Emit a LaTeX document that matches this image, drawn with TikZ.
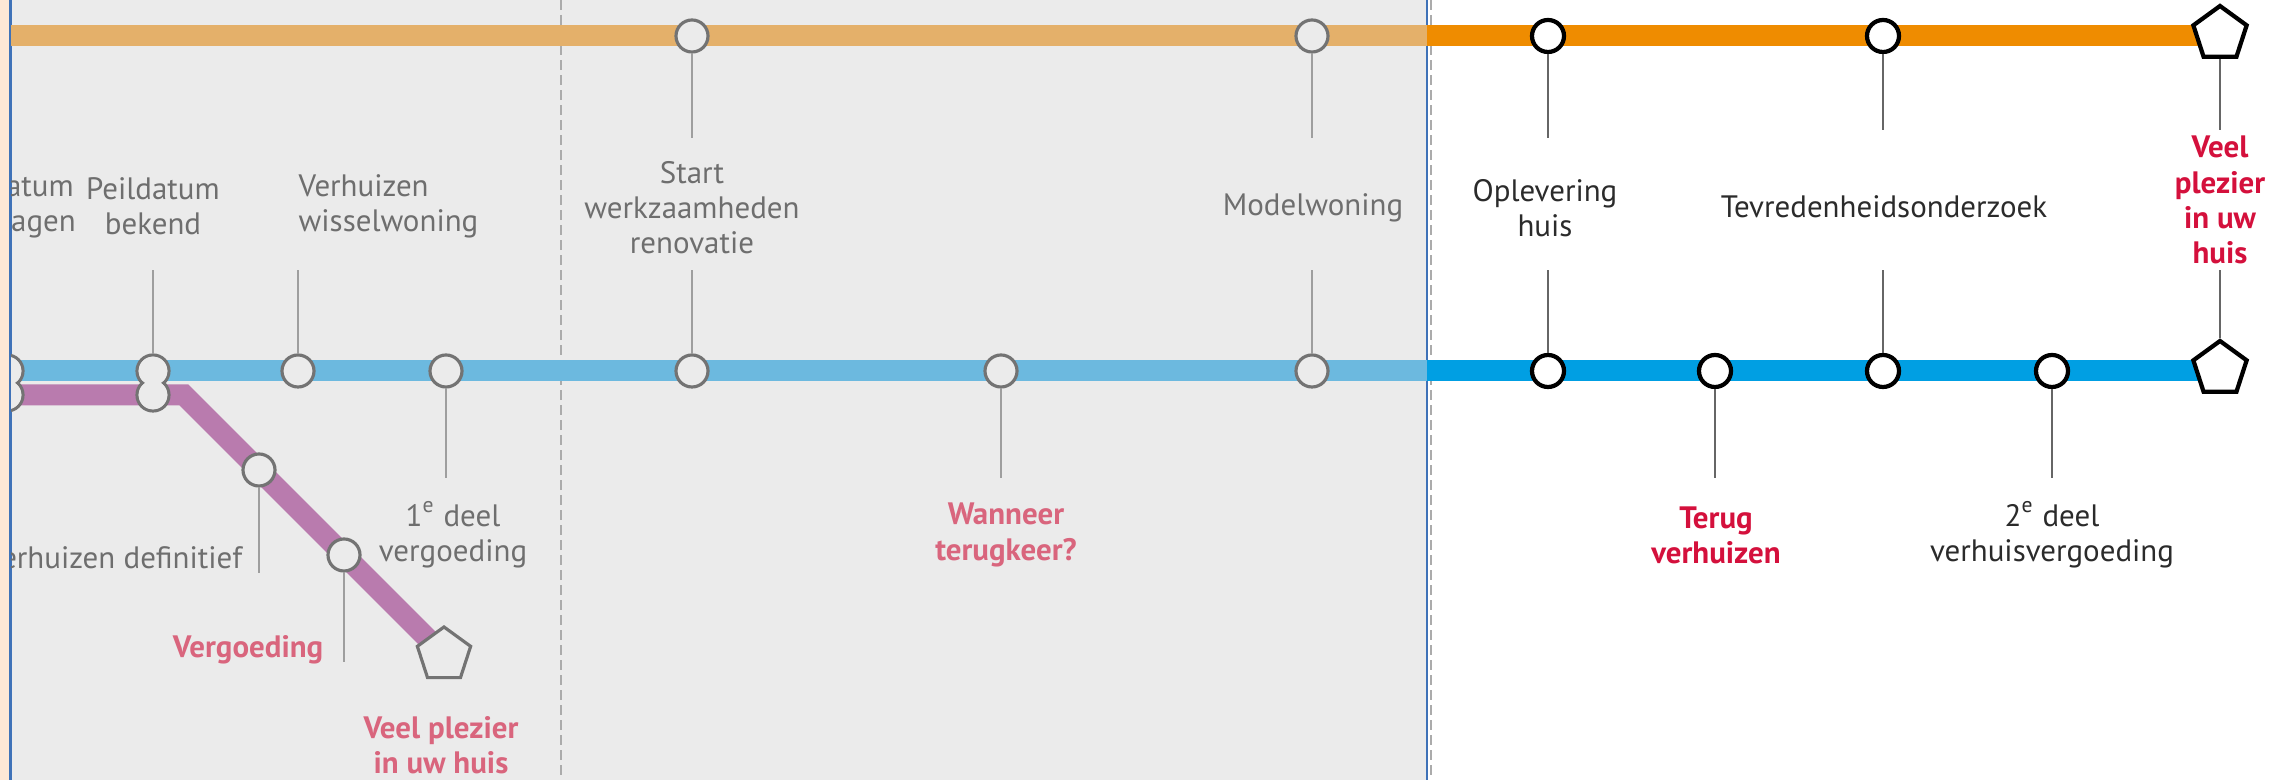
\documentclass[tikz,border=0pt]{standalone}
\usepackage{fontspec}
\setmainfont{PT Sans}
\usepackage{tikz}
\usetikzlibrary{shapes.geometric}

\definecolor{perzik}{HTML}{FDE7D6}
\definecolor{paneel}{HTML}{EBEBEB}
\definecolor{kader}{HTML}{3F72B8}
\definecolor{streepgrijs}{HTML}{ABABAB}
\definecolor{oranjevaag}{HTML}{E4B06A}
\definecolor{oranje}{HTML}{EF8C00}
\definecolor{blauwvaag}{HTML}{6CB9DF}
\definecolor{blauw}{HTML}{009FE3}
\definecolor{paars}{HTML}{B97BAE}
\definecolor{haltegrijs}{HTML}{737373}
\definecolor{tekstgrijs}{HTML}{6E6E6E}
\definecolor{tekstdonker}{HTML}{2B2B2B}
\definecolor{roze}{HTML}{D9657D}
\definecolor{rood}{HTML}{D4103C}

\begin{document}
\begin{tikzpicture}[x=0.01cm, y=-0.01cm,
	font=\fontsize{8.8}{10}\selectfont,
	halte/.style={shape=circle, draw=haltegrijs, fill=paneel, line width=0.9pt, minimum size=0.32cm, inner sep=0pt},
	haltezw/.style={shape=circle, draw=black, fill=white, line width=1.2pt, minimum size=0.32cm, inner sep=0pt},
	eind/.style={shape=regular polygon, regular polygon sides=5, draw=black, fill=white, line width=1.2pt, minimum size=0.56cm, inner sep=0pt},
	eindgrijs/.style={eind, draw=haltegrijs, fill=paneel, line width=0.9pt},
	lijn/.style={line width=0.21cm},
	leader/.style={draw=black!38, line width=0.5pt},
	leaderzw/.style={draw=black!60, line width=0.5pt},
	streep/.style={draw=streepgrijs, line width=0.45pt, dash pattern=on 0.1cm off 0.05cm},
	tekst/.style={align=center, inner sep=0pt, text=tekstgrijs},
	tekstzw/.style={align=center, inner sep=0pt, text=tekstdonker},
	roos/.style={align=center, inner sep=0pt, text=roze, font=\fontsize{8.8}{10}\selectfont\bfseries},
	rode/.style={align=center, inner sep=0pt, text=rood, font=\fontsize{8.8}{10}\selectfont\bfseries}]

	\useasboundingbox (0, 0) rectangle (2284, 780);

	% achtergrond
	\fill[perzik] (0, 0) rectangle (10, 780);
	\fill[paneel] (10, 0) rectangle (1427, 780);
	\draw[kader, line width=0.6pt] (10.5, 0) -- (10.5, 780);
	\draw[streep] (561, 0) -- (561, 780);
	\draw[streep] (1431, 0) -- (1431, 780);
	\draw[kader, line width=0.5pt] (1427, 0) -- (1427, 780);

	\coordinate (oA) at (10, 36);
	\coordinate (oB) at (1427, 36);
	\coordinate (oE) at (2220, 36);
	\coordinate (bA) at (10, 371);
	\coordinate (bB) at (1427, 371);
	\coordinate (bE) at (2220, 371);
	\coordinate (pA) at (10, 395);
	\coordinate (pK) at (184, 395);
	\coordinate (pE) at (444, 655);

	\coordinate (boven) at (0, 138);
	\coordinate (boven2) at (0, 130);
	\coordinate (midden) at (0, 270);
	\coordinate (onder) at (0, 478);
	\coordinate (onderp1) at (0, 573);
	\coordinate (onderp2) at (0, 662);

	\begin{scope}
	\clip (11, 0) rectangle (1427, 780);

	\draw[lijn, oranjevaag] (oA) -- (oB);
	\draw[lijn, blauwvaag] (bA) -- (bB);
	\draw[lijn, paars, line join=miter] (pA) -- (pK) -- (pE);

	\node[halte] (b0) at (7, 371) {};
	\node[halte] (b0x) at (7, 395) {};
	\node[halte] (b1) at (153, 371) {};
	\node[halte] (b1x) at (153, 395) {};
	\fill[paneel] (b0.center) circle (0.143cm) (b0x.center) circle (0.143cm);
	\fill[paneel] (b1.center) circle (0.143cm) (b1x.center) circle (0.143cm);
	\node[halte] (b2) at (298, 371) {};
	\node[halte] (b3) at (446, 371) {};
	\node[halte] (b4) at (692, 371) {};
	\node[halte] (b5) at (1001, 371) {};
	\node[halte] (b6) at (1312, 371) {};
	\node[halte] (o1) at (692, 36) {};
	\node[halte] (o2) at (1312, 36) {};
	\node[halte] (p1) at (259, 470) {};
	\node[halte] (p2) at (344, 555) {};
	\node[eindgrijs] (p3) at (pE) {};

	\node[tekst] (l0) at (7, 206) {Peildatum\\aanvragen};
	\node[tekst] (l1) at (153, 206) {Peildatum\\bekend};
	\node[tekst, anchor=west, align=left] (l2) at (298, 206) {Verhuizen\\wisselwoning};
	\node[tekst] (l3) at (453, 535) {1\textsuperscript{e} deel\\vergoeding};
	\node[tekst, anchor=east] (l4) at (243, 558) {Verhuizen definitief};
	\node[roos, anchor=east] (l5) at (324, 650) {Vergoeding};
	\node[roos] (l6) at (441, 745) {Veel plezier\\in uw huis};
	\node[tekst] (l7) at (692, 208) {Start\\werkzaamheden\\renovatie};
	\node[roos] (l8) at (1006, 535) {Wanneer\\terugkeer?};
	\node[tekst] (l9) at (1313, 208) {Modelwoning};
	\end{scope}

	\draw[lijn, oranje] (oB) -- (oE);
	\draw[lijn, blauw] (bB) -- (bE);

	\node[haltezw] (o3) at (1548, 36) {};
	\node[haltezw] (o4) at (1883, 36) {};
	\node[eind] (o5) at (2220, 34) {};
	\node[haltezw] (b7) at (1548, 371) {};
	\node[haltezw] (b8) at (1715, 371) {};
	\node[haltezw] (b9) at (1883, 371) {};
	\node[haltezw] (b10) at (2052, 371) {};
	\node[eind] (b11) at (2220, 369) {};

	\node[tekstzw] (l10) at (1545, 208) {Oplevering\\huis};
	\node[tekstzw] (l11) at (1884, 207) {Tevredenheidsonderzoek};
	\node[rode] (l12) at (2220, 200) {Veel\\plezier\\in uw\\huis};
	\node[rode] (l13) at (1716, 535) {Terug\\verhuizen};
	\node[tekstzw] (l14) at (2052, 535) {2\textsuperscript{e} deel\\verhuisvergoeding};

	\path[leader] (b1) edge (b1 |- midden);
	\path[leader] (b2) edge (b2 |- midden);
	\path[leader] (b3) edge (b3 |- onder);
	\path[leader] (p1) edge (p1 |- onderp1);
	\path[leader] (p2) edge (p2 |- onderp2);
	\path[leader] (o1) edge (o1 |- boven);
	\path[leader] (b4) edge (b4 |- midden);
	\path[leader] (b5) edge (b5 |- onder);
	\path[leader] (o2) edge (o2 |- boven);
	\path[leader] (b6) edge (b6 |- midden);
	\path[leaderzw] (o3) edge (o3 |- boven);
	\path[leaderzw] (b7) edge (b7 |- midden);
	\path[leaderzw] (b8) edge (b8 |- onder);
	\path[leaderzw] (o4) edge (o4 |- boven2);
	\path[leaderzw] (b9) edge (b9 |- midden);
	\path[leaderzw] (b10) edge (b10 |- onder);
	\path[leaderzw] (o5) edge (o5 |- boven2);
	\path[leaderzw] (b11) edge (b11 |- midden);

\end{tikzpicture}
\end{document}
